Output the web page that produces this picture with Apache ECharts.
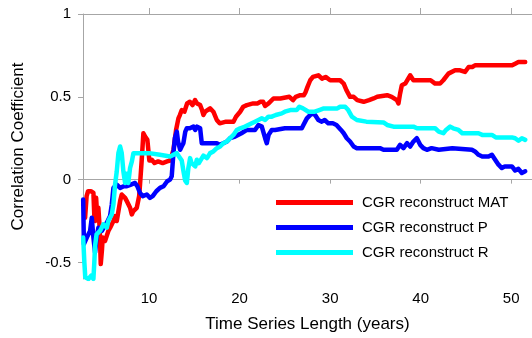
<!DOCTYPE html>
<html>
<head>
<meta charset="utf-8">
<script src="https://cdn.jsdelivr.net/npm/echarts@6/dist/echarts.min.js"></script>
<style>
  html, body { margin: 0; padding: 0; background: #fff; }
  #chart { width: 532px; height: 338px; }
</style>
</head>
<body>
<div id="chart"></div>
<script>
// Correlation of CGR reconstructions with observed series versus record length
const seriesNames = ['CGR reconstruct MAT', 'CGR reconstruct P', 'CGR reconstruct R'];
const seriesColors = ['#ff0000', '#0000ff', '#00ffff'];
const xTicks = [10, 20, 30, 40, 50];
const yTicks = [-0.5, 0, 0.5, 1];

// [years, correlation]
const matPoints = [
  [2.93, -0.23], [3.1, -0.1], [3.26, -0.07], [3.6, -0.07], [3.85, -0.08], [3.95, -0.22],
  [4.05, -0.25], [4.15, -0.11], [4.29, -0.24], [4.4, -0.17], [4.55, -0.3], [4.66, -0.51],
  [4.8, -0.42], [4.88, -0.35], [5.14, -0.37], [5.5, -0.31], [5.7, -0.29], [6.06, -0.25],
  [6.25, -0.22], [6.43, -0.25], [6.8, -0.13], [6.98, -0.09], [7.2, -0.1], [7.35, -0.11],
  [7.54, -0.13], [7.9, -0.17], [8.09, -0.21], [8.27, -0.19], [8.64, -0.17], [8.9, -0.1],
  [9.0, -0.03], [9.19, 0.12], [9.37, 0.28], [9.56, 0.26], [9.81, 0.24], [10.03, 0.115],
  [10.3, 0.12], [10.6, 0.1], [11.0, 0.11], [11.5, 0.1], [12.0, 0.11], [12.32, 0.115],
  [12.69, 0.18], [12.98, 0.3], [13.24, 0.37], [13.4, 0.39], [13.61, 0.42], [13.9, 0.41],
  [14.2, 0.46], [14.5, 0.47], [14.8, 0.45], [15.08, 0.48], [15.3, 0.46], [15.64, 0.45],
  [15.85, 0.42], [16.0, 0.39], [16.2, 0.41], [16.74, 0.43], [17.1, 0.41], [17.48, 0.36],
  [17.8, 0.34], [18.5, 0.35], [19.32, 0.35], [19.6, 0.38], [20.06, 0.41], [20.4, 0.44],
  [20.8, 0.45], [21.5, 0.46], [22.0, 0.46], [22.27, 0.47], [22.6, 0.47], [22.82, 0.445],
  [23.2, 0.46], [23.74, 0.49], [24.5, 0.49], [25.5, 0.5], [25.9, 0.48], [26.2, 0.5],
  [26.7, 0.51], [27.1, 0.51], [27.3, 0.53], [27.5, 0.56], [27.8, 0.6], [28.1, 0.62],
  [28.7, 0.63], [29.1, 0.61], [29.5, 0.62], [30.0, 0.6], [31.1, 0.6], [31.5, 0.58],
  [31.8, 0.54], [32.2, 0.5], [32.6, 0.5], [33.0, 0.48], [33.7, 0.47], [34.3, 0.48],
  [34.8, 0.49], [35.2, 0.5], [36.3, 0.51], [36.8, 0.5], [37.37, 0.48], [37.55, 0.46],
  [37.73, 0.52], [37.92, 0.57], [38.3, 0.58], [38.84, 0.63], [39.2, 0.6], [41.1, 0.6],
  [41.6, 0.58], [42.15, 0.58], [42.5, 0.6], [43.07, 0.64], [43.8, 0.66], [44.36, 0.66],
  [44.9, 0.65], [45.3, 0.68], [45.7, 0.68], [46.0, 0.69], [50.1, 0.69], [50.44, 0.7],
  [50.8, 0.71], [51.55, 0.71]
];

const pPoints = [
  [2.72, -0.12], [2.8, -0.39], [3.12, -0.35], [3.48, -0.31], [3.67, -0.23], [3.85, -0.35],
  [4.03, -0.44], [4.2, -0.35], [4.4, -0.29], [4.77, -0.31], [5.33, -0.26], [5.69, -0.22],
  [5.88, -0.15], [6.06, -0.05], [6.43, -0.03], [6.8, -0.05], [7.2, -0.04], [7.54, -0.04],
  [8.0, -0.03], [8.45, -0.02], [8.7, -0.04], [9.0, -0.08], [9.3, -0.1], [9.75, -0.09],
  [10.1, -0.11], [10.4, -0.1], [10.8, -0.07], [11.2, -0.05], [11.6, -0.04], [12.0, -0.01],
  [12.32, 0.0], [12.5, 0.02], [12.69, 0.16], [12.85, 0.25], [13.06, 0.29], [13.2, 0.23],
  [13.43, 0.18], [13.6, 0.2], [13.79, 0.22], [14.0, 0.29], [14.17, 0.31], [14.5, 0.31],
  [14.9, 0.32], [15.1, 0.3], [15.3, 0.32], [15.64, 0.31], [15.82, 0.22], [16.2, 0.22],
  [17.48, 0.22], [17.8, 0.21], [18.2, 0.22], [18.6, 0.23], [18.95, 0.25], [19.5, 0.26],
  [20.2, 0.28], [20.8, 0.3], [21.7, 0.3], [22.08, 0.33], [22.45, 0.32], [22.82, 0.25],
  [23.0, 0.22], [23.2, 0.27], [23.55, 0.3], [23.92, 0.3], [25.0, 0.31], [26.0, 0.31],
  [26.87, 0.31], [27.05, 0.33], [27.43, 0.37], [27.98, 0.4], [28.34, 0.39], [28.7, 0.36],
  [29.08, 0.35], [29.4, 0.36], [29.8, 0.34], [30.3, 0.34], [30.7, 0.33], [31.2, 0.3],
  [31.5, 0.28], [31.84, 0.25], [32.2, 0.23], [32.6, 0.2], [32.95, 0.19], [34.8, 0.19],
  [35.5, 0.19], [35.9, 0.18], [37.37, 0.18], [37.73, 0.21], [38.1, 0.19], [38.5, 0.22],
  [38.84, 0.2], [39.2, 0.23], [39.58, 0.25], [39.95, 0.21], [40.3, 0.19], [40.69, 0.18],
  [41.2, 0.19], [42.0, 0.18], [43.5, 0.19], [45.66, 0.18], [46.0, 0.17], [46.39, 0.15],
  [46.8, 0.14], [47.5, 0.14], [47.87, 0.15], [48.23, 0.12], [48.6, 0.09], [48.97, 0.07],
  [49.3, 0.08], [50.08, 0.08], [50.44, 0.055], [50.8, 0.065], [51.18, 0.04], [51.55, 0.05]
];

const rPoints = [
  [2.72, -0.35], [2.85, -0.5], [2.95, -0.59], [3.3, -0.6], [3.6, -0.58], [3.85, -0.6],
  [3.95, -0.5], [4.03, -0.4], [4.2, -0.33], [4.58, -0.31], [4.95, -0.27], [5.33, -0.29],
  [5.5, -0.25], [5.88, -0.21], [6.06, -0.15], [6.24, -0.03], [6.43, 0.05], [6.61, 0.16],
  [6.8, 0.2], [6.98, 0.16], [7.16, 0.05], [7.35, -0.02], [7.54, 0.035], [7.7, -0.02],
  [7.9, 0.07], [8.1, 0.11], [8.27, 0.16], [9.0, 0.16], [10.0, 0.16], [11.2, 0.15],
  [12.32, 0.14], [13.06, 0.16], [13.3, 0.14], [13.61, 0.115], [13.8, 0.05], [13.98, -0.005],
  [14.17, -0.02], [14.34, 0.07], [14.53, 0.13], [14.7, 0.1], [14.9, 0.11], [15.1, 0.08],
  [15.27, 0.12], [15.5, 0.1], [16.0, 0.145], [16.4, 0.13], [16.74, 0.16], [17.1, 0.17],
  [17.48, 0.19], [17.85, 0.2], [18.21, 0.22], [18.58, 0.23], [18.95, 0.25], [19.32, 0.27],
  [19.69, 0.3], [20.06, 0.31], [20.6, 0.32], [21.34, 0.34], [21.7, 0.35], [22.08, 0.36],
  [22.45, 0.37], [22.82, 0.36], [23.18, 0.38], [23.55, 0.38], [24.0, 0.39], [24.66, 0.4],
  [25.0, 0.41], [25.6, 0.42], [26.3, 0.42], [26.6, 0.44], [27.0, 0.43], [27.6, 0.41],
  [28.3, 0.41], [28.8, 0.42], [29.3, 0.43], [30.8, 0.43], [31.1, 0.44], [31.66, 0.44],
  [32.0, 0.42], [32.4, 0.38], [32.95, 0.36], [34.0, 0.35], [35.89, 0.345], [36.3, 0.33],
  [37.0, 0.32], [39.2, 0.32], [39.6, 0.31], [41.6, 0.31], [42.0, 0.29], [42.52, 0.28],
  [42.8, 0.3], [43.26, 0.32], [43.6, 0.31], [44.18, 0.3], [44.6, 0.28], [46.39, 0.28],
  [46.8, 0.27], [47.87, 0.27], [48.3, 0.255], [50.08, 0.255], [50.44, 0.25], [50.81, 0.235],
  [51.18, 0.25], [51.55, 0.24]
];

const FONT = '"Liberation Sans", Arial, sans-serif';
const AXIS_GREY = '#a6a6a6';
const X_MIN = 2.7, X_MAX = 52.3, Y_MIN = -0.6, Y_MAX = 1;

const chart = echarts.init(document.getElementById('chart'), null, { renderer: 'canvas' });

const seriesData = [matPoints, pPoints, rPoints];

chart.setOption({
  animation: false,
  backgroundColor: '#ffffff',
  textStyle: { fontFamily: FONT, color: '#000' },
  grid: { left: 83, top: 14, right: 0, bottom: 59 },
  legend: {
    data: seriesNames,
    orient: 'vertical',
    left: 271,
    top: 190,
    icon: 'rect',
    itemWidth: 77,
    itemHeight: 5,
    itemGap: 10,
    textStyle: { fontFamily: FONT, fontSize: 15, color: '#000', padding: [0, 0, 0, 4] }
  },
  xAxis: [
    {
      type: 'value', position: 'bottom', min: X_MIN, max: X_MAX,
      name: 'Time Series Length (years)', nameLocation: 'middle', nameGap: 37,
      nameTextStyle: { fontFamily: FONT, fontSize: 17, color: '#000' },
      axisLine: { show: true, lineStyle: { color: AXIS_GREY, width: 1 } },
      axisTick: { show: true, customValues: xTicks, length: 4, lineStyle: { color: AXIS_GREY } },
      axisLabel: { customValues: xTicks, margin: 12, fontFamily: FONT, fontSize: 15, color: '#000' },
      splitLine: { show: false }
    },
    {
      type: 'value', position: 'top', min: X_MIN, max: X_MAX,
      axisLine: { show: true, lineStyle: { color: AXIS_GREY, width: 1 } },
      axisTick: { show: true, customValues: xTicks, length: 6, lineStyle: { color: AXIS_GREY } },
      axisLabel: { show: false },
      splitLine: { show: false }
    }
  ],
  yAxis: {
    type: 'value', min: Y_MIN, max: Y_MAX,
    name: 'Correlation Coefficient', nameLocation: 'middle', nameGap: 56,
    nameTextStyle: { fontFamily: FONT, fontSize: 17, color: '#000' },
    axisLine: { show: true, lineStyle: { color: AXIS_GREY, width: 1 } },
    axisTick: { show: true, customValues: yTicks, length: 5, lineStyle: { color: AXIS_GREY } },
    axisLabel: { customValues: yTicks, margin: 12, fontFamily: FONT, fontSize: 15, color: '#000' },
    splitLine: { show: false }
  },
  series: seriesNames.map((name, i) => ({
    name: name,
    type: 'line',
    xAxisIndex: 0,
    data: seriesData[i],
    showSymbol: false,
    symbol: 'none',
    clip: true,
    color: seriesColors[i],
    lineStyle: { color: seriesColors[i], width: 4.5, join: 'round', cap: 'round' },
    z: 2 + i
  }))
});
</script>
</body>
</html>
